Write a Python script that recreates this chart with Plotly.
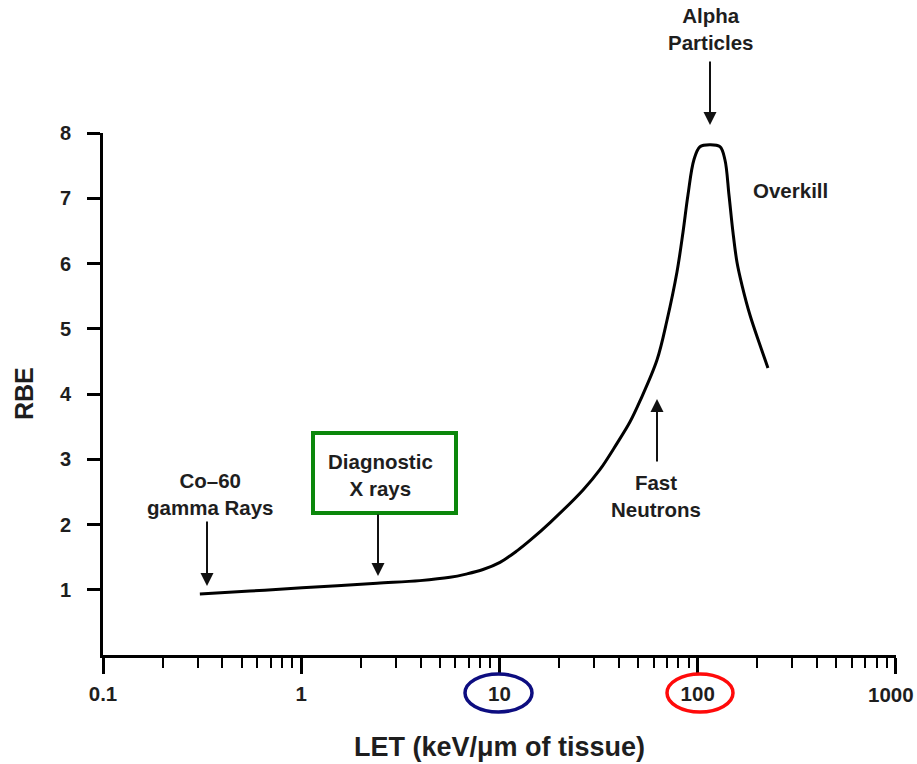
import plotly.graph_objects as go

# ---- data ----
let_values = [0.308, 0.551, 1.01, 2.41, 3.97, 5.63, 6.78, 8.26, 10.06, 12.3, 14.3, 18.0,
              26.4, 32.1, 39.1, 45.5, 51.1, 62.3,
              70.0, 78.6, 84.3, 89.3, 95.7, 102.7, 115.3, 129.5, 137.2, 143.8, 150.6,
              157.8, 167.2, 183.5, 206.1, 226.1]
rbe_values = [0.935, 0.98, 1.03, 1.10, 1.14, 1.19, 1.24, 1.31, 1.42, 1.60, 1.76, 2.03,
              2.53, 2.84, 3.24, 3.57, 3.89, 4.52,
              5.13, 5.87, 6.48, 7.05, 7.59, 7.79, 7.82, 7.79, 7.59, 7.05, 6.48,
              6.02, 5.67, 5.21, 4.75, 4.40]

x_tickvals = [0.1, 1, 10, 100, 1000]
x_ticktext = ["0.1", "1", "10", "100", ""]   # last label drawn as an annotation so it stays inside the page
x_last_label = "1000"
x_minor_tickvals = [m * d for d in (0.1, 1, 10, 100) for m in range(2, 10)]
y_tickvals = [1, 2, 3, 4, 5, 6, 7, 8]
y_ticktext = ["1", "2", "3", "4", "5", "6", "7", "8"]

x_title = "LET (keV/\u03bcm of tissue)"
y_title = "RBE"

# ---- layout geometry (pixels) ----
W, H = 917, 764
L, R, T, B = 103, 21, 133, 109
PW, PH = W - L - R, H - T - B


def px(xpix):
    return (xpix - L) / PW


def py(ypix):
    return (H - B - ypix) / PH


FONT = "Liberation Sans, Arial, Helvetica, sans-serif"
TXT = "#1e1e1e"

fig = go.Figure()
fig.add_trace(go.Scatter(
    x=let_values, y=rbe_values, mode="lines",
    line=dict(color="black", width=3, shape="spline", smoothing=1.0),
    hoverinfo="skip", showlegend=False,
))

fig.update_layout(
    width=W, height=H,
    margin=dict(l=L, r=R, t=T, b=B, pad=0, autoexpand=False),
    paper_bgcolor="white", plot_bgcolor="white",
    font=dict(family=FONT, color=TXT),
    showlegend=False,
)

tick_font = dict(family=FONT, size=20.5, color=TXT, weight="bold")

fig.update_xaxes(
    type="log", range=[-1, 3.0003], automargin=False,
    tickmode="array", tickvals=x_tickvals, ticktext=x_ticktext,
    showline=True, linecolor="black", linewidth=2.5,
    ticks="outside", ticklen=16, tickwidth=2.5, tickcolor="black",
    tickfont=tick_font,
    ticklabelstandoff=3, ticklabeloverflow="allow",
    minor=dict(tickmode="array", tickvals=x_minor_tickvals, ticks="outside",
               ticklen=10, tickwidth=2, tickcolor="black", showgrid=False),
    showgrid=False, zeroline=False,
)
fig.update_yaxes(
    range=[0, 8], automargin=False,
    tickvals=y_tickvals, ticktext=y_ticktext,
    showline=True, linecolor="black", linewidth=3,
    ticks="outside", ticklen=13, tickwidth=2.5, tickcolor="black",
    tickfont=dict(family=FONT, size=20, color=TXT, weight="bold"),
    ticklabelstandoff=12,
    showgrid=False, zeroline=False,
)

ann_font = dict(family=FONT, size=20.5, color=TXT, weight="bold")
annotations = []


def label(text, xc, yc, **kw):
    annotations.append(dict(
        text=text, x=px(xc), y=py(yc), xref="paper", yref="paper",
        xanchor=kw.pop("xanchor", "center"), yanchor="middle", showarrow=False,
        font=kw.pop("font", ann_font), align="center", **kw))


def arrow(xh, yh, ytail):
    annotations.append(dict(
        text="", x=px(xh), y=py(yh), xref="paper", yref="paper",
        ax=0, ay=ytail - yh, showarrow=True,
        arrowhead=2, arrowsize=1.3, arrowwidth=2, arrowcolor="#111",
        standoff=0, startstandoff=0))


label("Alpha<br>Particles", 710, 29)
arrow(710, 125, 60)
label("Overkill", 790, 190)
label("Co\u201360<br>gamma Rays", 210, 494)
arrow(207, 586, 520)
label("Diagnostic<br>X rays", 380, 475)
arrow(378, 576, 513)
label("Fast<br>Neutrons", 656, 496)
arrow(657, 399, 463)

label(x_last_label, 916, 694, xanchor="right", font=tick_font)

label(x_title, 499, 747, font=dict(family=FONT, size=27, color=TXT, weight="bold"))
label(y_title, 24, 394, font=dict(family=FONT, size=25, color=TXT, weight="bold"),
      textangle=-90)

fig.update_layout(annotations=annotations)

shapes = [
    dict(type="rect", xref="paper", yref="paper",
         x0=px(313), x1=px(456), y0=py(513), y1=py(433),
         line=dict(color="#0b870b", width=4)),
    dict(type="circle", xref="paper", yref="paper",
         x0=px(465), x1=px(532), y0=py(712), y1=py(674),
         line=dict(color="#0d0d80", width=3.5)),
    dict(type="circle", xref="paper", yref="paper",
         x0=px(667), x1=px(733), y0=py(712), y1=py(674),
         line=dict(color="#ff0a0a", width=3.5)),
]
fig.update_layout(shapes=shapes)

fig.write_html("out.html")
